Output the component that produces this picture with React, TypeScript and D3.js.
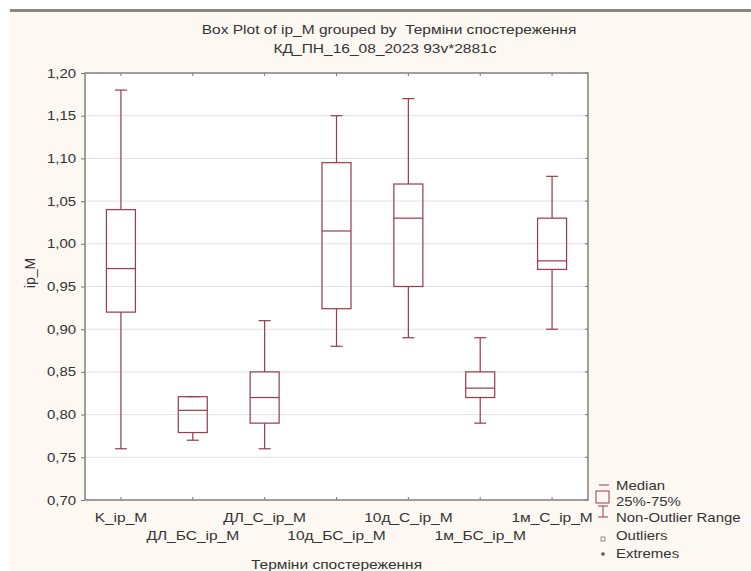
import { useEffect, useRef } from 'react';
import * as d3 from 'd3';

const CATEGORIES = ['K_ip_M', 'ДЛ_БС_ip_M', 'ДЛ_С_ip_M', '10д_БС_ip_M', '10д_С_ip_M', '1м_БС_ip_M', '1м_С_ip_M'];
const WHISKER_LOW = [0.76, 0.77, 0.76, 0.88, 0.89, 0.79, 0.9];
const Q1 = [0.92, 0.779, 0.79, 0.924, 0.95, 0.82, 0.97];
const MEDIAN = [0.971, 0.805, 0.82, 1.015, 1.03, 0.831, 0.98];
const Q3 = [1.04, 0.821, 0.85, 1.095, 1.07, 0.85, 1.03];
const WHISKER_HIGH = [1.18, 0.821, 0.91, 1.15, 1.17, 0.89, 1.079];
const Y_TICKS = [0.7, 0.75, 0.8, 0.85, 0.9, 0.95, 1.0, 1.05, 1.1, 1.15, 1.2];
const LEGEND = ['Median', '25%-75%', 'Non-Outlier Range', 'Outliers', 'Extremes'];

const W = 751;
const H = 571;
const BOX = '#9a3a4a';
const FONT = '"Liberation Sans", Arial, sans-serif';
const TEXT = '#333';
const STRETCH = 1.15;

type Sel = d3.Selection<any, unknown, null, undefined>;

// the original picture is a bit wider than tall, so text is stretched sideways
function label(parent: Sel, x: number, y: number, txt: string, size: number, anchor = 'start') {
  return parent
    .append('text')
    .attr('transform', `translate(${x},${y}) scale(${STRETCH},1)`)
    .attr('text-anchor', anchor)
    .attr('font-family', FONT)
    .attr('font-size', size)
    .attr('fill', TEXT)
    .text(txt);
}

export default function App() {
  const svgRef = useRef<SVGSVGElement>(null);

  useEffect(() => {
    const svg = d3.select(svgRef.current) as unknown as Sel;
    svg.selectAll('*').remove();

    const m = { left: 85, right: 588, top: 73, bottom: 500 };
    const x = d3.scaleBand().domain(CATEGORIES).range([m.left, m.right]).padding(0);
    const y = d3.scaleLinear().domain([0.7, 1.2]).range([m.bottom, m.top]);
    const cx = (c: string) => (x(c) ?? 0) + x.bandwidth() / 2;

    // page background
    svg.append('rect').attr('width', W).attr('height', H).attr('fill', '#ffffff');
    svg.append('rect').attr('x', 10).attr('y', 12).attr('width', W - 10).attr('height', H - 12).attr('fill', '#fdf8f1');
    svg.append('rect').attr('x', 10).attr('y', 9).attr('width', W - 10).attr('height', 3).attr('fill', '#8a8682');

    // titles
    label(svg, 389, 34, 'Box Plot of ip_M grouped by  Терміни спостереження', 13.5, 'middle').attr('xml:space', 'preserve');
    label(svg, 385, 53, 'КД_ПН_16_08_2023 93v*2881c', 13.5, 'middle');

    // plot area
    svg.append('rect').attr('x', m.left).attr('y', m.top).attr('width', m.right - m.left).attr('height', m.bottom - m.top).attr('fill', '#fff');

    svg.append('g')
      .selectAll('line')
      .data(Y_TICKS.slice(1, -1))
      .join('line')
      .attr('x1', m.left).attr('x2', m.right)
      .attr('y1', (d) => y(d)).attr('y2', (d) => y(d))
      .attr('stroke', '#e2e2e2').attr('stroke-width', 1);

    // left axis ticks, labels drawn separately so they can be stretched
    const yAxis = d3.axisLeft(y).tickValues(Y_TICKS).tickSize(4).tickFormat(() => '');
    const gy = svg.append('g').attr('transform', `translate(${m.left},0)`).call(yAxis as any);
    gy.select('.domain').remove();
    gy.selectAll('line').attr('stroke', '#777');
    const fmt = (d: number) => d3.format('.2f')(d).replace('.', ',');
    Y_TICKS.forEach((t) => label(svg, 76, y(t) + 4.5, fmt(t), 13, 'end'));

    // right inner ticks
    svg.append('g').selectAll('line').data(Y_TICKS).join('line')
      .attr('x1', m.right - 3).attr('x2', m.right)
      .attr('y1', (d) => y(d)).attr('y2', (d) => y(d)).attr('stroke', '#777');

    // top/bottom inner ticks
    svg.append('g').selectAll('line').data(CATEGORIES).join('line')
      .attr('x1', cx).attr('x2', cx).attr('y1', m.top).attr('y2', m.top + 3).attr('stroke', '#777');
    svg.append('g').selectAll('line').data(CATEGORIES).join('line')
      .attr('x1', cx).attr('x2', cx).attr('y1', m.bottom).attr('y2', m.bottom - 3).attr('stroke', '#777');

    // frame
    svg.append('rect').attr('x', m.left).attr('y', m.top).attr('width', m.right - m.left).attr('height', m.bottom - m.top)
      .attr('fill', 'none').attr('stroke', '#808080').attr('stroke-width', 1.5);

    // x labels, staggered in two rows
    CATEGORIES.forEach((c, i) => label(svg, cx(c), i % 2 === 0 ? 522 : 540, c, 13.5, 'middle'));

    label(svg, (m.left + m.right) / 2, 569, 'Терміни спостереження', 13.5, 'middle');

    svg.append('text').attr('transform', `translate(35,273) rotate(-90)`).attr('text-anchor', 'middle')
      .attr('font-family', FONT).attr('font-size', 14).attr('fill', TEXT).text('ip_M');

    // boxes
    const boxW = 29;
    const capW = 12;
    const g = svg.append('g').attr('stroke', BOX).attr('stroke-width', 1.2).attr('fill', 'none');
    CATEGORIES.forEach((c, i) => {
      const xc = cx(c);
      g.append('line').attr('x1', xc).attr('x2', xc).attr('y1', y(WHISKER_HIGH[i])).attr('y2', y(Q3[i]));
      g.append('line').attr('x1', xc).attr('x2', xc).attr('y1', y(Q1[i])).attr('y2', y(WHISKER_LOW[i]));
      g.append('line').attr('x1', xc - capW / 2).attr('x2', xc + capW / 2).attr('y1', y(WHISKER_HIGH[i])).attr('y2', y(WHISKER_HIGH[i]));
      g.append('line').attr('x1', xc - capW / 2).attr('x2', xc + capW / 2).attr('y1', y(WHISKER_LOW[i])).attr('y2', y(WHISKER_LOW[i]));
      g.append('rect').attr('x', xc - boxW / 2).attr('y', y(Q3[i])).attr('width', boxW).attr('height', y(Q1[i]) - y(Q3[i]));
      g.append('line').attr('x1', xc - boxW / 2).attr('x2', xc + boxW / 2).attr('y1', y(MEDIAN[i])).attr('y2', y(MEDIAN[i]));
    });

    // legend
    const lg = svg.append('g');
    const lx = 603;
    const rows = [490, 506, 522, 540, 558];
    lg.append('line').attr('x1', lx - 4).attr('x2', lx + 6).attr('y1', 485).attr('y2', 485).attr('stroke', BOX);
    lg.append('rect').attr('x', lx - 7).attr('y', 491).attr('width', 13).attr('height', 12).attr('fill', 'none').attr('stroke', BOX);
    lg.append('line').attr('x1', lx).attr('x2', lx).attr('y1', 506).attr('y2', 517).attr('stroke', BOX);
    lg.append('line').attr('x1', lx - 5).attr('x2', lx + 5).attr('y1', 506).attr('y2', 506).attr('stroke', BOX);
    lg.append('line').attr('x1', lx - 5).attr('x2', lx + 5).attr('y1', 517).attr('y2', 517).attr('stroke', BOX);
    lg.append('rect').attr('x', lx - 2).attr('y', 537).attr('width', 4).attr('height', 4).attr('fill', 'none').attr('stroke', '#777').attr('stroke-width', 0.8);
    lg.append('circle').attr('cx', lx).attr('cy', 554).attr('r', 1.8).attr('fill', '#555');
    LEGEND.forEach((t, i) => label(lg, 616, rows[i], t, 13));
  }, []);

  return (
    <div style={{ position: 'absolute', left: 0, top: 0 }}>
      <svg ref={svgRef} width={W} height={H} style={{ display: 'block' }} />
    </div>
  );
}
